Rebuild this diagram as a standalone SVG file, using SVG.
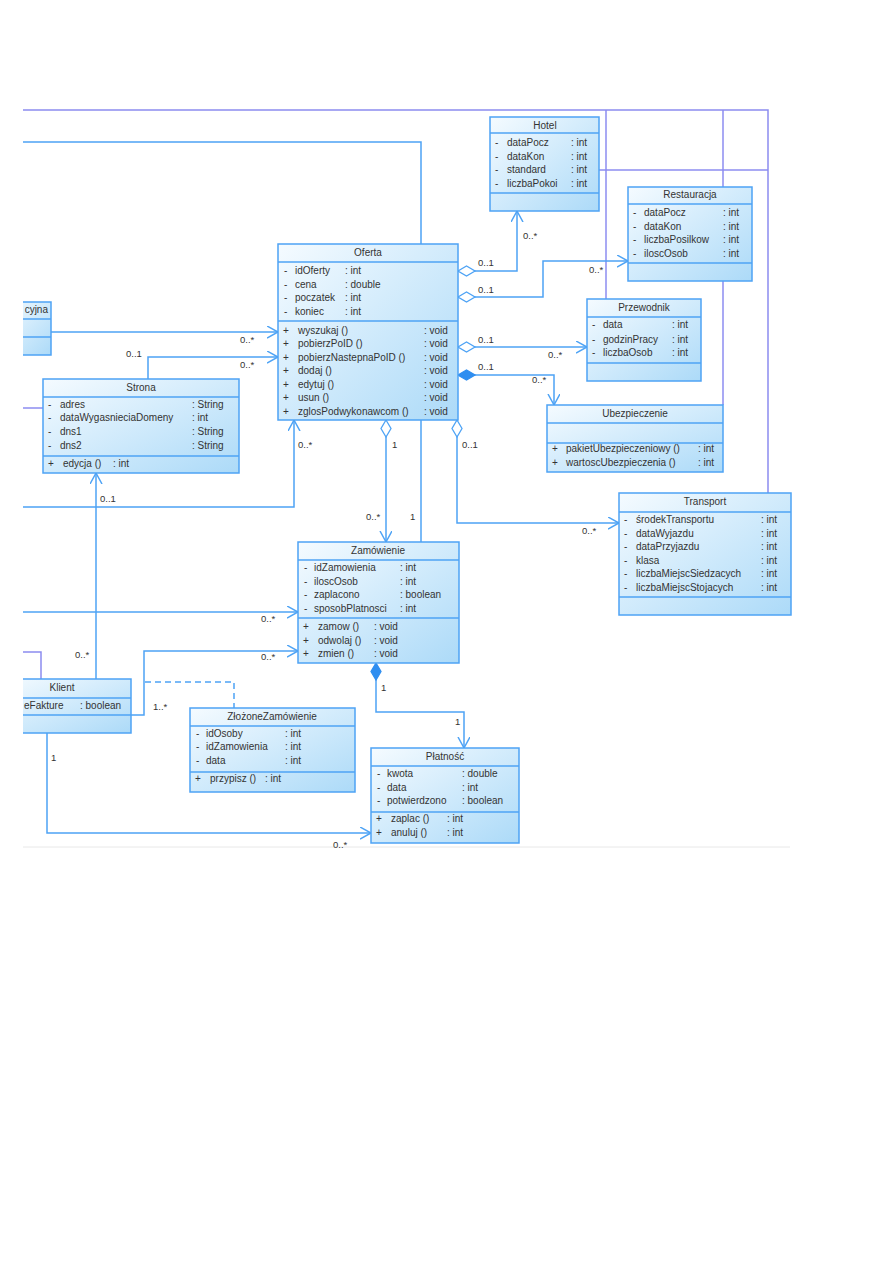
<svg xmlns="http://www.w3.org/2000/svg" width="893" height="1263" viewBox="0 0 893 1263">
<style>
text{font-family:"Liberation Sans",Arial,sans-serif;font-size:10px;fill:#333}
.t{text-anchor:middle}
.box{fill:url(#g);stroke:#4ea3f5;stroke-width:1.5}
.sep{stroke:#4ea3f5;stroke-width:1.3}
.c{fill:none;stroke:#4ea3f5;stroke-width:1.5}
.p{fill:none;stroke:#8c8cf0;stroke-width:1.5}
.d{fill:none;stroke:#4ea3f5;stroke-width:1.5;stroke-dasharray:6,4}
.l{font-size:9.5px}
</style>
<defs>
<linearGradient id="g" x1="0" y1="0" x2="1" y2="1">
<stop offset="0" stop-color="#f5fbff"/>
<stop offset="1" stop-color="#acdaf8"/>
</linearGradient>
<marker id="arr" markerUnits="userSpaceOnUse" markerWidth="14" markerHeight="14" refX="11" refY="6" orient="auto">
<path d="M0,0 L11,6 L0,12" fill="none" stroke="#4ea3f5" stroke-width="1.5"/>
</marker>
<marker id="dia" markerUnits="userSpaceOnUse" markerWidth="20" markerHeight="12" refX="1" refY="6" orient="auto">
<path d="M1,6 L9.5,1 L18,6 L9.5,11 Z" fill="#fff" stroke="#4ea3f5" stroke-width="1.3"/>
</marker>
<marker id="fdia" markerUnits="userSpaceOnUse" markerWidth="20" markerHeight="12" refX="1" refY="6" orient="auto">
<path d="M1,6 L9.5,1 L18,6 L9.5,11 Z" fill="#2f8ef0" stroke="#2f8ef0" stroke-width="1.3"/>
</marker>
<clipPath id="clip"><rect x="23" y="0" width="870" height="1263"/></clipPath>
</defs>
<rect width="893" height="1263" fill="#fff"/>
<line x1="23" y1="847" x2="790" y2="847" stroke="#e8e8e8" stroke-width="1"/>
<g clip-path="url(#clip)">
<g id="connectors">
<polyline class="p" points="23,110 768,110 768,493"/>
<line class="p" x1="723" y1="110" x2="723" y2="405"/>
<line class="p" x1="606" y1="110" x2="606" y2="299"/>
<line class="p" x1="599" y1="170" x2="768" y2="170"/>
<polyline class="p" points="23,408 43,408"/>
<polyline class="p" points="23,652 41,652 41,679"/>
<polyline class="c" points="23,142 421,142 421,244"/>
<line class="c" x1="421" y1="420" x2="421" y2="542"/>
<polyline class="c" points="458,271 517,271 517,211" marker-start="url(#dia)" marker-end="url(#arr)"/>
<polyline class="c" points="458,297 543,297 543,261 628,261" marker-start="url(#dia)" marker-end="url(#arr)"/>
<polyline class="c" points="458,347 587,347" marker-start="url(#dia)" marker-end="url(#arr)"/>
<polyline class="c" points="458,375 554,375 554,405" marker-start="url(#fdia)" marker-end="url(#arr)"/>
<polyline class="c" points="457,420 457,523 619,523" marker-start="url(#dia)" marker-end="url(#arr)"/>
<polyline class="c" points="386,420 386,542" marker-start="url(#dia)" marker-end="url(#arr)"/>
<polyline class="c" points="51,332 278,332" marker-end="url(#arr)"/>
<polyline class="c" points="148,379 148,357 278,357" marker-end="url(#arr)"/>
<polyline class="c" points="23,507 294,507 294,420" marker-end="url(#arr)"/>
<polyline class="c" points="96,679 96,473" marker-end="url(#arr)"/>
<polyline class="c" points="23,612 298,612" marker-end="url(#arr)"/>
<polyline class="c" points="131,715 144,715 144,651 298,651" marker-end="url(#arr)"/>
<polyline class="d" points="145,682 234,682 234,708"/>
<polyline class="c" points="376,663 376,712 464,712 464,748" marker-start="url(#fdia)" marker-end="url(#arr)"/>
<polyline class="c" points="47,733 47,833 371,833" marker-end="url(#arr)"/>
<text class="l" x="478" y="266">0..1</text>
<text class="l" x="523" y="239">0..*</text>
<text class="l" x="478" y="293">0..1</text>
<text class="l" x="589" y="273">0..*</text>
<text class="l" x="478" y="343">0..1</text>
<text class="l" x="548" y="358">0..*</text>
<text class="l" x="478" y="370">0..1</text>
<text class="l" x="532" y="383">0..*</text>
<text class="l" x="462" y="448">0..1</text>
<text class="l" x="582" y="534">0..*</text>
<text class="l" x="392" y="448">1</text>
<text class="l" x="366" y="520">0..*</text>
<text class="l" x="410" y="520">1</text>
<text class="l" x="240" y="343">0..*</text>
<text class="l" x="126" y="357">0..1</text>
<text class="l" x="240" y="368">0..*</text>
<text class="l" x="298" y="448">0..*</text>
<text class="l" x="100" y="502">0..1</text>
<text class="l" x="75" y="658">0..*</text>
<text class="l" x="261" y="622">0..*</text>
<text class="l" x="261" y="660">0..*</text>
<text class="l" x="153" y="710">1..*</text>
<text class="l" x="381" y="691">1</text>
<text class="l" x="455" y="725">1</text>
<text class="l" x="51" y="761">1</text>
<text class="l" x="333" y="848">0..*</text>
</g>
<g id="informacyjna">
<rect class="box" x="0" y="302" width="51" height="53"/>
<line class="sep" x1="0" y1="319" x2="51" y2="319"/>
<line class="sep" x1="0" y1="337" x2="51" y2="337"/>
<text x="48" y="313" text-anchor="end">cyjna</text>
</g>
<g id="oferta">
<rect class="box" x="278" y="244" width="180" height="176"/>
<line class="sep" x1="278" y1="262" x2="458" y2="262"/>
<line class="sep" x1="278" y1="321" x2="458" y2="321"/>
<text class="t" x="368" y="256">Oferta</text>
<text x="284" y="274">-</text><text x="295" y="274">idOferty</text><text x="345" y="274">: int</text>
<text x="284" y="288">-</text><text x="295" y="288">cena</text><text x="345" y="288">: double</text>
<text x="284" y="301">-</text><text x="295" y="301">poczatek</text><text x="345" y="301">: int</text>
<text x="284" y="315">-</text><text x="295" y="315">koniec</text><text x="345" y="315">: int</text>
<text x="283" y="334">+</text><text x="298" y="334">wyszukaj ()</text><text x="424" y="334">: void</text>
<text x="283" y="347">+</text><text x="298" y="347">pobierzPoID ()</text><text x="424" y="347">: void</text>
<text x="283" y="361">+</text><text x="298" y="361">pobierzNastepnaPoID ()</text><text x="424" y="361">: void</text>
<text x="283" y="374">+</text><text x="298" y="374">dodaj ()</text><text x="424" y="374">: void</text>
<text x="283" y="388">+</text><text x="298" y="388">edytuj ()</text><text x="424" y="388">: void</text>
<text x="283" y="401">+</text><text x="298" y="401">usun ()</text><text x="424" y="401">: void</text>
<text x="283" y="415">+</text><text x="298" y="415">zglosPodwykonawcom ()</text><text x="424" y="415">: void</text>
</g>
<g id="hotel">
<rect class="box" x="490" y="117" width="109" height="94"/>
<line class="sep" x1="490" y1="133" x2="599" y2="133"/>
<line class="sep" x1="490" y1="193" x2="599" y2="193"/>
<text class="t" x="545" y="129">Hotel</text>
<text x="495" y="146">-</text><text x="507" y="146">dataPocz</text><text x="571" y="146">: int</text>
<text x="495" y="160">-</text><text x="507" y="160">dataKon</text><text x="571" y="160">: int</text>
<text x="495" y="173">-</text><text x="507" y="173">standard</text><text x="571" y="173">: int</text>
<text x="495" y="187">-</text><text x="507" y="187">liczbaPokoi</text><text x="571" y="187">: int</text>
</g>
<g id="restauracja">
<rect class="box" x="628" y="187" width="124" height="94"/>
<line class="sep" x1="628" y1="204" x2="752" y2="204"/>
<line class="sep" x1="628" y1="263" x2="752" y2="263"/>
<text class="t" x="690" y="198">Restauracja</text>
<text x="633" y="216">-</text><text x="644" y="216">dataPocz</text><text x="723" y="216">: int</text>
<text x="633" y="230">-</text><text x="644" y="230">dataKon</text><text x="723" y="230">: int</text>
<text x="633" y="243">-</text><text x="644" y="243">liczbaPosilkow</text><text x="723" y="243">: int</text>
<text x="633" y="257">-</text><text x="644" y="257">iloscOsob</text><text x="723" y="257">: int</text>
</g>
<g id="przewodnik">
<rect class="box" x="587" y="299" width="114" height="82"/>
<line class="sep" x1="587" y1="317" x2="701" y2="317"/>
<line class="sep" x1="587" y1="363" x2="701" y2="363"/>
<text class="t" x="644" y="311">Przewodnik</text>
<text x="592" y="328">-</text><text x="603" y="328">data</text><text x="672" y="328">: int</text>
<text x="592" y="343">-</text><text x="603" y="343">godzinPracy</text><text x="672" y="343">: int</text>
<text x="592" y="356">-</text><text x="603" y="356">liczbaOsob</text><text x="672" y="356">: int</text>
</g>
<g id="ubezpieczenie">
<rect class="box" x="547" y="405" width="176" height="67"/>
<line class="sep" x1="547" y1="423" x2="723" y2="423"/>
<line class="sep" x1="547" y1="443" x2="723" y2="443"/>
<text class="t" x="635" y="417">Ubezpieczenie</text>
<text x="552" y="452">+</text><text x="566" y="452">pakietUbezpieczeniowy ()</text><text x="698" y="452">: int</text>
<text x="552" y="466">+</text><text x="566" y="466">wartoscUbezpieczenia ()</text><text x="698" y="466">: int</text>
</g>
<g id="strona">
<rect class="box" x="43" y="379" width="196" height="94"/>
<line class="sep" x1="43" y1="397" x2="239" y2="397"/>
<line class="sep" x1="43" y1="456" x2="239" y2="456"/>
<text class="t" x="141" y="391">Strona</text>
<text x="48" y="408">-</text><text x="60" y="408">adres</text><text x="192" y="408">: String</text>
<text x="48" y="421">-</text><text x="60" y="421">dataWygasnieciaDomeny</text><text x="192" y="421">: int</text>
<text x="48" y="435">-</text><text x="60" y="435">dns1</text><text x="192" y="435">: String</text>
<text x="48" y="449">-</text><text x="60" y="449">dns2</text><text x="192" y="449">: String</text>
<text x="48" y="467">+</text><text x="63" y="467">edycja ()</text><text x="113" y="467">: int</text>
</g>
<g id="transport">
<rect class="box" x="619" y="493" width="172" height="122"/>
<line class="sep" x1="619" y1="512" x2="791" y2="512"/>
<line class="sep" x1="619" y1="597" x2="791" y2="597"/>
<text class="t" x="705" y="505">Transport</text>
<text x="624" y="523">-</text><text x="636" y="523">środekTransportu</text><text x="761" y="523">: int</text>
<text x="624" y="537">-</text><text x="636" y="537">dataWyjazdu</text><text x="761" y="537">: int</text>
<text x="624" y="550">-</text><text x="636" y="550">dataPrzyjazdu</text><text x="761" y="550">: int</text>
<text x="624" y="564">-</text><text x="636" y="564">klasa</text><text x="761" y="564">: int</text>
<text x="624" y="577">-</text><text x="636" y="577">liczbaMiejscSiedzacych</text><text x="761" y="577">: int</text>
<text x="624" y="591">-</text><text x="636" y="591">liczbaMiejscStojacych</text><text x="761" y="591">: int</text>
</g>
<g id="zamowienie">
<rect class="box" x="298" y="542" width="161" height="121"/>
<line class="sep" x1="298" y1="560" x2="459" y2="560"/>
<line class="sep" x1="298" y1="618" x2="459" y2="618"/>
<text class="t" x="378" y="554">Zamówienie</text>
<text x="304" y="571">-</text><text x="314" y="571">idZamowienia</text><text x="400" y="571">: int</text>
<text x="304" y="585">-</text><text x="314" y="585">iloscOsob</text><text x="400" y="585">: int</text>
<text x="304" y="598">-</text><text x="314" y="598">zaplacono</text><text x="400" y="598">: boolean</text>
<text x="304" y="612">-</text><text x="314" y="612">sposobPlatnosci</text><text x="400" y="612">: int</text>
<text x="303" y="630">+</text><text x="318" y="630">zamow ()</text><text x="374" y="630">: void</text>
<text x="303" y="644">+</text><text x="318" y="644">odwolaj ()</text><text x="374" y="644">: void</text>
<text x="303" y="657">+</text><text x="318" y="657">zmien ()</text><text x="374" y="657">: void</text>
</g>
<g id="klient">
<rect class="box" x="0" y="679" width="131" height="54"/>
<line class="sep" x1="0" y1="698" x2="131" y2="698"/>
<line class="sep" x1="0" y1="715" x2="131" y2="715"/>
<text class="t" x="62" y="691">Klient</text>
<text x="24" y="709">eFakture</text><text x="80" y="709">: boolean</text>
</g>
<g id="zlozoneZamowienie">
<rect class="box" x="190" y="708" width="165" height="84"/>
<line class="sep" x1="190" y1="726" x2="355" y2="726"/>
<line class="sep" x1="190" y1="772" x2="355" y2="772"/>
<text class="t" x="272" y="720">ZłożoneZamówienie</text>
<text x="196" y="737">-</text><text x="206" y="737">idOsoby</text><text x="285" y="737">: int</text>
<text x="196" y="750">-</text><text x="206" y="750">idZamowienia</text><text x="285" y="750">: int</text>
<text x="196" y="764">-</text><text x="206" y="764">data</text><text x="285" y="764">: int</text>
<text x="195" y="782">+</text><text x="210" y="782">przypisz ()</text><text x="265" y="782">: int</text>
</g>
<g id="platnosc">
<rect class="box" x="371" y="748" width="148" height="95"/>
<line class="sep" x1="371" y1="766" x2="519" y2="766"/>
<line class="sep" x1="371" y1="812" x2="519" y2="812"/>
<text class="t" x="445" y="760">Płatność</text>
<text x="377" y="777">-</text><text x="387" y="777">kwota</text><text x="462" y="777">: double</text>
<text x="377" y="791">-</text><text x="387" y="791">data</text><text x="462" y="791">: int</text>
<text x="377" y="804">-</text><text x="387" y="804">potwierdzono</text><text x="462" y="804">: boolean</text>
<text x="376" y="822">+</text><text x="391" y="822">zaplac ()</text><text x="447" y="822">: int</text>
<text x="376" y="836">+</text><text x="391" y="836">anuluj ()</text><text x="447" y="836">: int</text>
</g>
</g>
</svg>
